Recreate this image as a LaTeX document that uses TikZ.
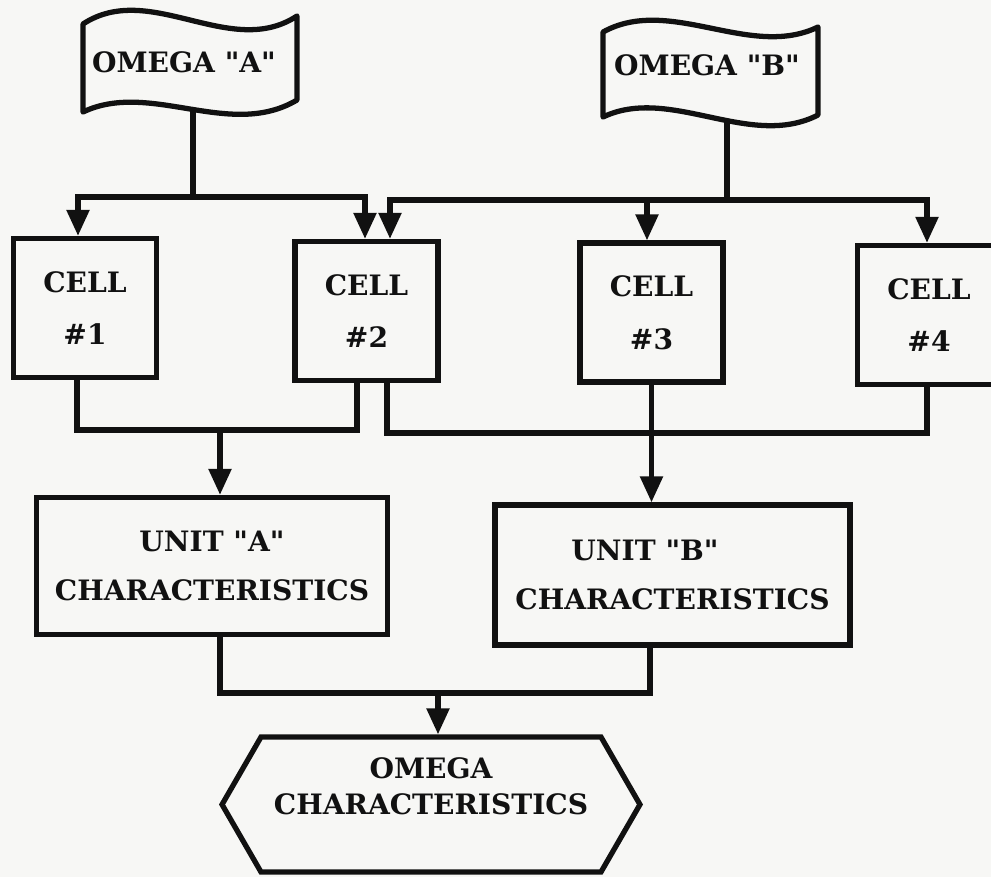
\documentclass[tikz,border=0pt]{standalone}
\usepackage{fontspec}
\setmainfont{DejaVu Serif}[Ligatures=TeXOff]
\usepackage{tikz}
\usetikzlibrary{arrows.meta,positioning,shapes.symbols,calc}
\definecolor{paper}{HTML}{F7F7F5}
\definecolor{ink}{HTML}{111111}

\tikzset{
  wire/.style={ink,line width=3pt},
  feed/.style={wire,-{Triangle[length=0.52cm,width=0.44cm]}},
  chart/.style={font=\bfseries\fontsize{16}{19}\selectfont,text=ink,align=center},
  flagtext/.style={chart,inner sep=0pt},
  cellbox/.style={chart,draw,wire,minimum width=2.86cm,minimum height=2.78cm},
  unitbox/.style={chart,draw,wire,minimum width=7.02cm,minimum height=2.74cm},
  hexbox/.style={chart,draw,wire,signal,signal to=east and west,
                 signal pointer angle=120,minimum width=8.36cm,minimum height=2.7cm}
}

\begin{document}
\begin{tikzpicture}[x=0.02cm,y=-0.02cm]
  % page
  \useasboundingbox (0,0) rectangle (991,877);
  \clip (0,0) rectangle (991,877);
  \fill[paper] (0,0) rectangle (991,877);

  % Omega transmitters (flags)
  \draw[wire,line join=round] (83,24) .. controls (150,-20) and (230,60) .. (297,16)
    -- (297,100) .. controls (230,140) and (150,80) .. (83,112) -- cycle;
  \node[flagtext] (flagA) at (184,62) {OMEGA "A"};
  \draw[wire,line join=round] (603,32) .. controls (670,-5) and (750,60) .. (818,27)
    -- (818,115) .. controls (750,150) and (670,85) .. (603,117) -- cycle;
  \node[flagtext] (flagB) at (707,65) {OMEGA "B"};

  % cells
  \node[cellbox] (c1) at (85,308) {CELL\\[11pt]\#1};
  \node[cellbox] (c2) at (366.5,311) {CELL\\[11pt]\#2};
  \node[cellbox] (c3) at (651.5,312.5) {CELL\\[11pt]\#3};
  \node[cellbox] (c4) at (929,315) {CELL\\[11pt]\#4};

  % units and result
  \node[unitbox] (uA) at (212,566) {UNIT "A"\\[9pt]CHARACTERISTICS};
  \node[unitbox,minimum width=7.1cm,minimum height=2.8cm] (uB) at (672.5,575)
    {UNIT "B"\hspace*{1.1cm}\\[9pt]CHARACTERISTICS};
  \node[hexbox] (omega) at (431,804.5) {OMEGA\\[2pt]CHARACTERISTICS\\[2pt]\mbox{}};

  % feeds from the flags
  \coordinate (stemA) at (193,110);
  \coordinate (jA) at (193,197);
  \coordinate (stemB) at (727,121);
  \coordinate (jB) at (727,200);
  \draw[wire] (stemA) -- (jA);
  \draw[feed] (jA) -| ([xshift=-0.14cm]c1.north);
  \draw[feed] (jA) -| ([xshift=-0.03cm]c2.north);
  \draw[wire] (stemB) -- (jB);
  \draw[feed] (jB) -| ([xshift=0.47cm]c2.north);
  \draw[feed] (jB) -| ([xshift=-0.09cm]c3.north);
  \draw[feed] (jB) -| ([xshift=-0.04cm]c4.north);

  % cells to units
  \coordinate (mA) at (220,430);
  \coordinate (mB) at (652,433);
  \draw[wire] ([xshift=-0.16cm]c1.south) |- (mA) -| ([xshift=-0.19cm]c2.south);
  \draw[feed] (mA) -- (mA |- uA.north);
  \draw[wire] ([xshift=0.41cm]c2.south) |- (mB) -| ([xshift=-0.04cm]c4.south);
  \draw[feed] (c3.south) -- (c3.south |- uB.north);

  % units to result
  \coordinate (mC) at (438,693);
  \draw[wire] ([xshift=0.16cm]uA.south) |- (mC) -| ([xshift=-0.45cm]uB.south);
  \draw[feed] (mC) -- (mC |- omega.north);
\end{tikzpicture}
\end{document}
